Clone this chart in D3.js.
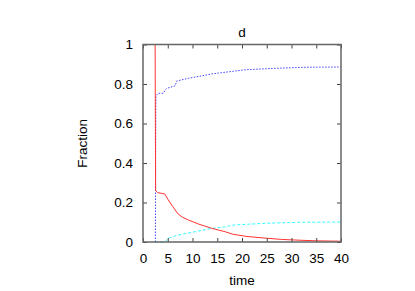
<!DOCTYPE html>
<html>
<head>
<meta charset="utf-8">
<script src="https://cdn.jsdelivr.net/npm/d3@7"></script>
<style>
  body { margin: 0; background: #fff; }
  .chart text { font-family: 'Liberation Sans', Arial, sans-serif; fill: #000; }
</style>
</head>
<body>
<div id="chart"></div>
<script>
// values
const xTicks = [0, 5, 10, 15, 20, 25, 30, 35, 40]
const yTicks = [0, 0.2, 0.4, 0.6, 0.8, 1]

const redTime = [2.45, 2.5, 2.55, 3.0, 4.0, 4.4, 5.1, 6.0, 6.5, 7.1, 8, 9.2, 11.2, 13.9, 16.6, 18.2, 21, 25, 28, 31.7, 35, 40]
const redFrac = [1.0, 0.6, 0.26, 0.25, 0.245, 0.243, 0.213, 0.18, 0.162, 0.142, 0.125, 0.111, 0.091, 0.069, 0.052, 0.039, 0.028, 0.019, 0.013, 0.009, 0.006, 0.004]

const blueTime = [2.5, 2.55, 2.6, 3.1, 4.1, 4.5, 4.8, 6.5, 6.8, 9.2, 13.9, 20.6, 26.3, 33.1, 40]
const blueFrac = [0, 0.4, 0.74, 0.753, 0.753, 0.77, 0.778, 0.791, 0.815, 0.829, 0.851, 0.872, 0.879, 0.885, 0.886]

const cyanTime = [2.5, 4.4, 5.1, 7.1, 10.5, 13.9, 16.6, 18.2, 25, 31.7, 40]
const cyanFrac = [0, 0, 0.019, 0.035, 0.052, 0.069, 0.077, 0.086, 0.095, 0.1, 0.101]

const margin = { top: 44.5, right: 74, bottom: 49, left: 143 }
const width = 415 - margin.left - margin.right
const height = 291 - margin.top - margin.bottom

const x = d3.scaleLinear().domain([0, 40]).range([0, width])
const y = d3.scaleLinear().domain([0, 1]).range([height, 0])

const svg = d3.select('#chart').append('svg')
  .attr('class', 'chart')
  .attr('width', 415)
  .attr('height', 291)

const chart = svg.append('g')
  .attr('transform', `translate(${margin.left},${margin.top})`)

const zip = (ts, vs) => ts.map((t, i) => [t, vs[i]])
const line = d3.line().x(d => x(d[0])).y(d => y(d[1]))

chart.append('path')
  .attr('d', line(zip(cyanTime, cyanFrac)))
  .attr('fill', 'none')
  .attr('stroke', '#33ffff')
  .attr('stroke-width', 1)
  .attr('stroke-dasharray', '3,2')

chart.append('path')
  .attr('d', line(zip(blueTime, blueFrac)))
  .attr('fill', 'none')
  .attr('stroke', '#4444ff')
  .attr('stroke-width', 1)
  .attr('stroke-dasharray', '1.5,1.5')

chart.append('path')
  .attr('d', line(zip(redTime, redFrac)))
  .attr('fill', 'none')
  .attr('stroke', '#ff3333')
  .attr('stroke-width', 1)

// axes, gnuplot style: inward ticks mirrored on all sides
const styleAxis = g => {
  g.select('.domain').remove()
  g.selectAll('.tick line').attr('stroke', '#444')
  g.selectAll('.tick text').attr('font-size', 13.5).attr('fill', '#000')
}

chart.append('g')
  .attr('transform', `translate(0,${height})`)
  .call(d3.axisBottom(x).tickValues(xTicks).tickFormat(String).tickSize(-4).tickPadding(11))
  .call(styleAxis)

chart.append('g')
  .call(d3.axisTop(x).tickValues(xTicks).tickFormat('').tickSize(-4))
  .call(styleAxis)

chart.append('g')
  .call(d3.axisLeft(y).tickValues(yTicks).tickFormat(String).tickSize(-4).tickPadding(10))
  .call(styleAxis)

chart.append('g')
  .attr('transform', `translate(${width},0)`)
  .call(d3.axisRight(y).tickValues(yTicks).tickFormat('').tickSize(-4))
  .call(styleAxis)

chart.append('rect')
  .attr('width', width)
  .attr('height', height)
  .attr('fill', 'none')
  .attr('stroke', '#666')
  .attr('stroke-width', 1.5)

chart.append('text')
  .attr('x', width / 2)
  .attr('y', -7.5)
  .attr('text-anchor', 'middle')
  .attr('font-size', 13.5)
  .text('d')

chart.append('text')
  .attr('x', width / 2)
  .attr('y', height + 43)
  .attr('text-anchor', 'middle')
  .attr('font-size', 13.5)
  .text('time')

chart.append('text')
  .attr('transform', `translate(-56,${height / 2}) rotate(-90)`)
  .attr('text-anchor', 'middle')
  .attr('font-size', 13.5)
  .text('Fraction')
</script>
</body>
</html>
